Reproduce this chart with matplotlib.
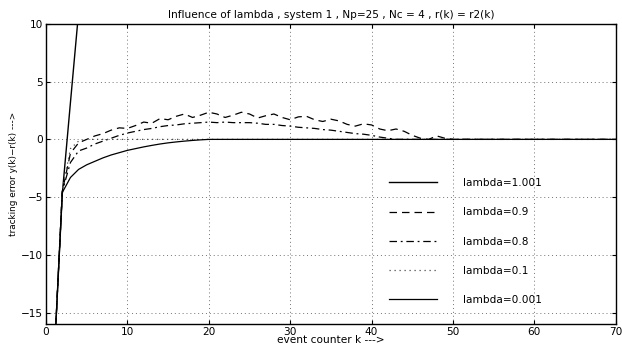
import matplotlib
matplotlib.use('Agg')
import matplotlib.pyplot as plt

plt.rcParams['font.family'] = ['DejaVu Sans']
plt.rcParams['font.size'] = 7.6

# lambda = 1.001 (diverges)
k_a = [1, 2, 3, 4, 5]
e_a = [-19, -4.7, 3.2, 11, 19]

# lambda = 0.9
k_b = list(range(1, 51)) + [70]
e_b = [-19, -4.5, -1.2, -0.3, 0.0, 0.3, 0.5, 0.8, 1.0, 0.95,
       1.2, 1.5, 1.4, 1.8, 1.7, 2.0, 2.2, 1.9, 2.1, 2.35,
       2.2, 1.9, 2.1, 2.35, 2.2, 1.85, 2.05, 2.2, 1.9, 1.7,
       1.95, 2.0, 1.7, 1.55, 1.75, 1.6, 1.3, 1.15, 1.35, 1.25,
       0.9, 0.75, 0.9, 0.7, 0.35, 0.1, 0.0, 0.3, 0.1, 0.0, 0.0]

# lambda = 0.8
k_c = list(range(1, 44)) + [70]
e_c = [-19, -4.5, -2.0, -1.0, -0.75, -0.4, -0.15, 0.1, 0.35, 0.55,
       0.7, 0.85, 0.95, 1.1, 1.2, 1.25, 1.35, 1.4, 1.45, 1.5,
       1.45, 1.5, 1.45, 1.45, 1.45, 1.4, 1.3, 1.3, 1.2, 1.15,
       1.05, 1.0, 0.95, 0.85, 0.8, 0.7, 0.6, 0.5, 0.45, 0.35,
       0.2, 0.1, 0.0, 0.0]

# lambda = 0.1
k_d = [1, 2, 3, 4, 5, 70]
e_d = [-19, -4.4, -0.8, -0.15, 0.0, 0.0]

# lambda = 0.001
k_e = list(range(1, 21)) + [70]
e_e = [-19, -4.6, -3.3, -2.6, -2.2, -1.9, -1.6, -1.35, -1.15, -0.95,
       -0.8, -0.65, -0.52, -0.4, -0.3, -0.22, -0.15, -0.09, -0.04, 0.0, 0.0]

fig = plt.figure(figsize=(6.22, 3.47), dpi=100)
ax = fig.add_axes([0.074, 0.066, 0.916, 0.865])

ax.plot(k_a, e_a, 'k-', lw=1.0, label='lambda=1.001')
ax.plot(k_b, e_b, color='k', ls=(0, (6, 4)), lw=0.9, label='lambda=0.9')
ax.plot(k_c, e_c, color='k', ls=(0, (6, 3, 1.5, 3)), lw=0.9, label='lambda=0.8')
ax.plot(k_d, e_d, color='0.3', ls=(0, (1, 3)), lw=0.9, label='lambda=0.1')
ax.plot(k_e, e_e, 'k-', lw=0.9, label='lambda=0.001')

ax.set_xlim(0, 70)
ax.set_ylim(-16, 10)
ax.set_xticks(range(0, 71, 10))
ax.set_yticks(range(-15, 11, 5))
ax.grid(True, linestyle=(0, (1, 3)), color='0.45', lw=0.7)
ax.tick_params(direction='in', top=True, right=True, length=3, pad=2)
for s in ax.spines.values():
    s.set_linewidth(1.0)

ax.set_title('Influence of lambda , system 1 , Np=25 , Nc = 4 , r(k) = r2(k)', fontsize=7.6, pad=4)
ax.set_xlabel('event counter k --->', fontsize=7.6, labelpad=-1)
ax.set_ylabel('tracking error y(k)\u2212r(k) --->', fontsize=6.4, labelpad=2)

ax.legend(loc='center left', bbox_to_anchor=(0.585, 0.275), frameon=False,
          handlelength=4.6, handletextpad=2.4, labelspacing=1.82, fontsize=7.6)

fig.savefig('out.png', dpi=100)
